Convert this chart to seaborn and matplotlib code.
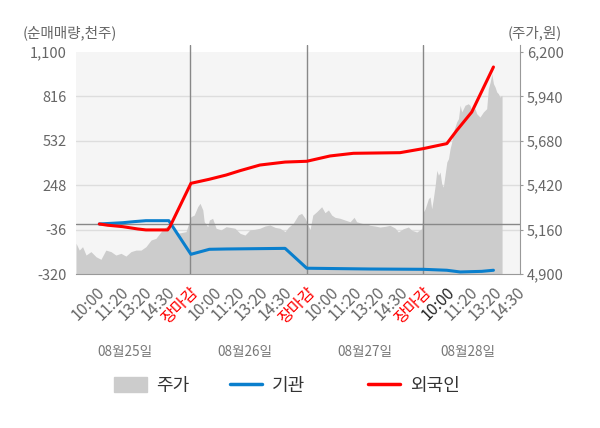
import matplotlib
matplotlib.use("Agg")
import matplotlib.pyplot as plt
import matplotlib.patches as mpatches
from matplotlib.lines import Line2D
from matplotlib.ticker import FuncFormatter
import seaborn as sns

# x is in "slot" units: one slot per time tick, 5 slots per trading day
price_t = [0.11, 0.25, 0.39, 0.54, 0.75, 0.97, 1.18, 1.39, 1.61, 1.82, 2.04, 2.25, 2.47,
           2.68, 2.90, 3.11, 3.33, 3.54, 3.76, 3.97, 4.11, 4.26, 4.40, 4.61, 4.83,
           5.04, 5.18, 5.33, 5.43, 5.55, 5.61, 5.76, 5.83, 5.97, 6.12, 6.33, 6.55,
           6.72, 6.93, 7.15, 7.36, 7.57, 7.79, 8.00, 8.22, 8.43, 8.65, 8.86, 9.08,
           9.22, 9.43, 9.65, 9.79, 9.94, 10.03,
           10.15, 10.27, 10.44, 10.65, 10.79, 10.94, 11.08, 11.22, 11.44, 11.65, 11.87,
           12.04, 12.15, 12.37, 12.58, 12.73, 12.94, 13.15, 13.37, 13.58, 13.80, 13.94,
           14.15, 14.37, 14.52, 14.73, 14.94,
           15.01, 15.09, 15.23, 15.30, 15.37, 15.44, 15.52, 15.59, 15.66, 15.73, 15.80,
           15.87, 15.94, 16.02, 16.09, 16.16, 16.23, 16.30, 16.37, 16.44, 16.52, 16.59,
           16.66, 16.73, 16.80, 16.94, 17.01, 17.09, 17.23, 17.30, 17.44, 17.59, 17.73,
           17.80, 17.88, 17.95, 18.02, 18.09, 18.16, 18.23, 18.30, 18.37, 18.39]
price_v = [5080, 5040, 5060, 5011, 5031, 5001, 4986, 5040, 5031, 5011, 5021, 5005, 5031,
           5040, 5040, 5060, 5099, 5109, 5148, 5177, 5187, 5158, 5138, 5142, 5148,
           5236, 5245, 5294, 5314, 5275, 5206, 5177, 5216, 5226, 5168, 5158, 5177,
           5173, 5168, 5138, 5128, 5158, 5162, 5168, 5181, 5187, 5173, 5168, 5148,
           5173, 5197, 5246, 5255, 5226, 5197,
           5160, 5245, 5265, 5294, 5259, 5275, 5245, 5232, 5226, 5216, 5206,
           5232, 5206, 5197, 5193, 5185, 5181, 5175, 5179, 5185, 5169, 5146,
           5165, 5175, 5156, 5146, 5165,
           5263, 5282, 5341, 5351, 5282, 5341, 5419, 5507, 5478, 5497, 5429,
           5409, 5478, 5556, 5575, 5634, 5673, 5732, 5761, 5790, 5810, 5888,
           5849, 5868, 5888, 5897, 5888, 5859, 5868, 5839, 5819, 5849, 5868,
           5985, 6024, 6073, 6014, 5995, 5966, 5956, 5936, 5946, 5940]

inst_t = [1.11, 2.11, 2.61, 3.11, 4.09, 5.04, 5.83, 6.55, 9.08, 10.01, 12.73, 15.01,
          16.02, 16.59, 17.52, 18.02]
inst_v = [0, 8, 15, 21, 21, -194, -162, -160, -156, -283, -288, -290, -296, -307, -303, -296]

frgn_t = [1.11, 1.47, 2.11, 2.76, 3.11, 4.04, 4.14, 5.04, 5.83, 6.55, 7.15, 8.00, 9.08,
          10.01, 11.01, 12.01, 14.01, 15.01, 16.02, 16.45, 17.09, 18.02]
frgn_v = [0, -8, -17, -32, -38, -38, -17, 260, 286, 313, 341, 377, 396,
          401, 435, 452, 456, 482, 514, 599, 716, 1004]

tick_labels = ["10:00", "11:20", "13:20", "14:30", "장마감"] * 3 + ["10:00", "11:20", "13:20", "14:30"]
day_labels = ["08월25일", "08월26일", "08월27일", "08월28일"]
day_pos = [2.21, 7.36, 12.51, 16.93]
left_ticks = [-320, -36, 248, 532, 816, 1100]
right_ticks = [4900, 5160, 5420, 5680, 5940, 6200]

sns.set_style("white")
plt.rcParams["font.family"] = ["Noto Sans CJK KR", "DejaVu Sans"]

fig = plt.figure(figsize=(6, 4.28), dpi=100)
ax = fig.add_axes([0.1267, 0.3598, 0.74, 0.5351])
ax2 = ax.twinx()

fs = 10.5
gray_txt = "#666666"

# ---------price area (right axis)------------
ax.axhspan(4900, 6200, color="#f5f5f5", zorder=0, lw=0)
for v in right_ticks[1:-1]:
    ax.axhline(v, color="#dddddd", lw=1, zorder=1)
ax.fill_between(price_t, 4900, price_v, color="#cccccc", lw=0, zorder=2)
ax.set_ylim(4900, 6241)
ax.set_xlim(0.11, 19.16)

# ---------net buy lines (left axis)------------
ax2.set_ylim(-320, 1144.8)
ax2.axhline(0, color="#888888", lw=1, zorder=1)
for b in [5, 10, 15]:
    ax2.axvline(b, color="#888888", lw=1, zorder=1)
sns.lineplot(x=inst_t, y=inst_v, ax=ax2, color="#0a7fcd", linewidth=2.2, estimator=None, zorder=3)
sns.lineplot(x=frgn_t, y=frgn_v, ax=ax2, color="#ff0000", linewidth=2.2, estimator=None, zorder=4)

# ---------axes styling------------
ax.yaxis.tick_right()
ax2.yaxis.tick_left()
ax.set_yticks(right_ticks)
ax2.set_yticks(left_ticks)
fmt = FuncFormatter(lambda v, p: f"{v:,.0f}")
ax.yaxis.set_major_formatter(fmt)
ax2.yaxis.set_major_formatter(fmt)
ax.tick_params(axis="y", labelsize=fs, colors=gray_txt, length=2, pad=3)
ax2.tick_params(axis="y", labelsize=fs, colors=gray_txt, length=0, pad=7)
ax.tick_params(axis="y", color="#999999")

for a in (ax, ax2):
    for side in ["top", "left"]:
        a.spines[side].set_visible(False)
    a.spines["right"].set_color("#999999")
    a.spines["bottom"].set_color("#999999")
ax2.spines["right"].set_visible(False)
ax2.spines["bottom"].set_visible(False)

ax.set_xticks(range(1, 20))
ax.set_xticklabels(tick_labels, rotation=45, ha="right", rotation_mode="anchor")
ax.set_xticks([0.11, 5, 10, 15], minor=True)
ax.tick_params(axis="x", which="major", length=0, labelsize=11.5, colors=gray_txt, pad=7)
ax.tick_params(axis="x", which="minor", length=5, color="#999999")
for i, lab in enumerate(ax.get_xticklabels()):
    if lab.get_text() == "장마감":
        lab.set_color("red")
    elif i == 15:
        lab.set_color("#222222")
ax.set_xlabel("")
ax2.set_ylabel("")

for x, d in zip(day_pos, day_labels):
    ax.text(x, -0.34, d, transform=ax.get_xaxis_transform(), ha="center", va="center",
            fontsize=9.8, color="#777777")

fig.text(0.037, 0.923, "(순매매량,천주)", fontsize=fs, color=gray_txt, ha="left", va="center")
fig.text(0.937, 0.923, "(주가,원)", fontsize=fs, color=gray_txt, ha="right", va="center")

# ---------legend------------
handles = [
    mpatches.Patch(color="#cccccc", label="주가"),
    Line2D([], [], color="#0a7fcd", lw=2.5, label="기관"),
    Line2D([], [], color="#ff0000", lw=2.5, label="외국인"),
]
leg_x = [0.19, 0.383, 0.613]
for h, lx in zip(handles, leg_x):
    fig.legend(handles=[h], loc="center left", bbox_to_anchor=(lx, 0.098),
               frameon=False, fontsize=13, handlelength=1.8, handleheight=0.9,
               handletextpad=0.55, borderpad=0, borderaxespad=0, labelcolor="#333333")

plt.savefig("out.png", dpi=100)
plt.close()
